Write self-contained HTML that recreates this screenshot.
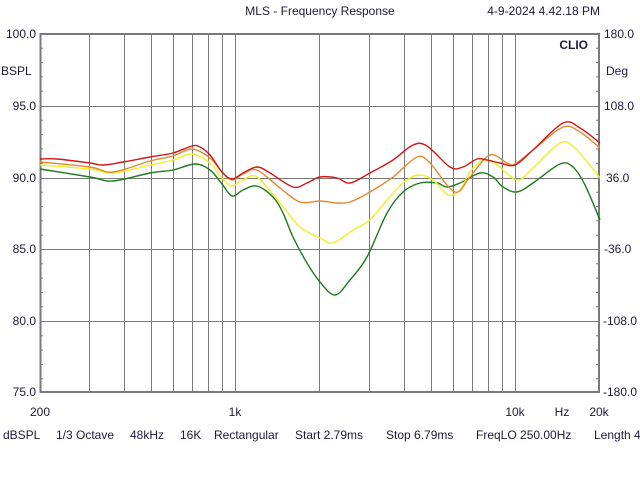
<!DOCTYPE html>
<html><head><meta charset="utf-8"><style>
html,body{margin:0;padding:0;background:#fff;}
svg{display:block;font-family:"Liberation Sans",sans-serif;}
text{fill:#1c1a3a;font-size:12px;}
</style></head><body>
<svg id="s" width="640" height="480" viewBox="0 0 640 480">
<rect width="640" height="480" fill="#fff"/>
<g stroke="#7a7a7a" stroke-width="1">
<line x1="89.5" y1="34" x2="89.5" y2="392"/>
<line x1="124.5" y1="34" x2="124.5" y2="392"/>
<line x1="151.5" y1="34" x2="151.5" y2="392"/>
<line x1="173.5" y1="34" x2="173.5" y2="392"/>
<line x1="192.5" y1="34" x2="192.5" y2="392"/>
<line x1="208.5" y1="34" x2="208.5" y2="392"/>
<line x1="222.5" y1="34" x2="222.5" y2="392"/>
<line x1="235.5" y1="34" x2="235.5" y2="392"/>
<line x1="319.5" y1="34" x2="319.5" y2="392"/>
<line x1="369.5" y1="34" x2="369.5" y2="392"/>
<line x1="404.5" y1="34" x2="404.5" y2="392"/>
<line x1="431.5" y1="34" x2="431.5" y2="392"/>
<line x1="453.5" y1="34" x2="453.5" y2="392"/>
<line x1="472.5" y1="34" x2="472.5" y2="392"/>
<line x1="488.5" y1="34" x2="488.5" y2="392"/>
<line x1="502.5" y1="34" x2="502.5" y2="392"/>
<line x1="515.5" y1="34" x2="515.5" y2="392"/>
<line x1="40" y1="106.5" x2="599" y2="106.5"/>
<line x1="40" y1="178.5" x2="599" y2="178.5"/>
<line x1="40" y1="249.5" x2="599" y2="249.5"/>
<line x1="40" y1="321.5" x2="599" y2="321.5"/>
</g>
<g stroke="#7a7a7a" stroke-width="1">
<path d="M40 48.3h3M40 62.6h3M40 76.9h3M40 91.3h3M40 120.3h3M40 134.6h3M40 148.9h3M40 163.2h3M40 192.3h3M40 206.6h3M40 220.9h3M40 235.2h3M40 263.8h3M40 278.1h3M40 292.5h3M40 306.8h3M40 335.8h3M40 350.1h3M40 364.4h3M40 378.7h3"/>
<path d="M599 48.3h-3M599 62.6h-3M599 76.9h-3M599 91.3h-3M599 120.3h-3M599 134.6h-3M599 148.9h-3M599 163.2h-3M599 192.3h-3M599 206.6h-3M599 220.9h-3M599 235.2h-3M599 263.8h-3M599 278.1h-3M599 292.5h-3M599 306.8h-3M599 335.8h-3M599 350.1h-3M599 364.4h-3M599 378.7h-3"/>
</g>
<rect x="40.5" y="34" width="558.5" height="358" fill="none" stroke="#7a7a7a" stroke-width="2"/>
<g id="curves" fill="none" stroke-width="1.4" stroke-linejoin="round">
<polyline stroke="#1e7a1e" points="40,169 90,177 113,181 150,173 173,170 195,164 210,170 222,184 232,196 243,190 257,186 273,197 283,213 293,237 307,263 320,282 335,295 350,280 367,257 387,213 403,192 420,183 437,183 447,187 460,183 480,173 493,177 503,187 517,192 533,183 560,164 573,167 585,185 600,220"/>
<polyline stroke="#f2ee28" points="40,165 90,169 113,173 150,165 173,160 192,154 210,163 222,178 232,186 243,180 257,177 280,203 300,227 320,238 333,243 353,230 370,220 387,200 403,183 418,175 433,180 448,195 460,190 470,172 483,160 497,165 517,180 533,168 560,143 575,148 600,178"/>
<polyline stroke="#e28a30" points="40,162 90,167 113,172 150,161 173,156 192,149 210,158 222,172 232,180 243,174 257,170 280,188 300,202 320,201 337,203 350,202 370,192 393,177 417,157 430,163 447,185 458,192 470,177 490,155 507,163 515,164 533,150 563,127 580,132 600,148"/>
<polyline stroke="#d01818" points="40,159 57,159 90,163 103,165 123,162 150,157 173,153 192,146 200,147 210,155 222,172 232,179 243,173 257,167 270,173 293,187 307,183 320,177 337,178 350,183 370,173 393,160 413,145 427,146 450,167 463,167 477,159 487,160 500,163 515,165 533,150 563,123 580,128 600,143"/>
</g>
<text x="320" y="15" text-anchor="middle">MLS - Frequency Response</text>
<text x="600" y="15" text-anchor="end">4-9-2024 4.42.18 PM</text>
<text x="588" y="49" text-anchor="end" font-weight="bold">CLIO</text>
<g text-anchor="end">
<text x="36" y="38">100.0</text>
<text x="36" y="110">95.0</text>
<text x="36" y="182">90.0</text>
<text x="36" y="253">85.0</text>
<text x="36" y="325">80.0</text>
<text x="36" y="396">75.0</text>
</g>
<text x="1" y="75">BSPL</text>
<g>
<text x="604" y="38">180.0</text>
<text x="606" y="75">Deg</text>
<text x="604" y="110">108.0</text>
<text x="606" y="182">36.0</text>
<text x="604" y="253">-36.0</text>
<text x="603" y="325">-108.0</text>
<text x="603" y="396">-180.0</text>
</g>
<g text-anchor="middle">
<text x="40" y="416">200</text>
<text x="235" y="416">1k</text>
<text x="515" y="416">10k</text>
<text x="562" y="416">Hz</text>
<text x="599" y="416">20k</text>
</g>
<text x="3" y="439">dBSPL</text>
<text x="56" y="439">1/3 Octave</text>
<text x="130" y="439">48kHz</text>
<text x="180" y="439">16K</text>
<text x="214" y="439">Rectangular</text>
<text x="295" y="439">Start 2.79ms</text>
<text x="386" y="439">Stop 6.79ms</text>
<text x="476" y="439">FreqLO 250.00Hz</text>
<text x="594" y="439">Length 4</text>
</svg>
<script>
(function(){
var ns="http://www.w3.org/2000/svg";
var pls=document.querySelectorAll('#curves polyline');
for(var k=0;k<pls.length;k++){
 var pl=pls[k];
 var p=pl.getAttribute('points').trim().split(/\s+/).map(function(s){return s.split(',').map(Number);});
 var d='M'+p[0][0]+' '+p[0][1];
 for(var i=0;i<p.length-1;i++){
  var p0=p[i-1]||p[i],p1=p[i],p2=p[i+1],p3=p[i+2]||p2;
  var c1x=p1[0]+(p2[0]-p0[0])/6,c1y=p1[1]+(p2[1]-p0[1])/6;
  var c2x=p2[0]-(p3[0]-p1[0])/6,c2y=p2[1]-(p3[1]-p1[1])/6;
  d+=' C'+c1x.toFixed(2)+' '+c1y.toFixed(2)+' '+c2x.toFixed(2)+' '+c2y.toFixed(2)+' '+p2[0]+' '+p2[1];
 }
 var path=document.createElementNS(ns,'path');
 path.setAttribute('d',d);
 path.setAttribute('stroke',pl.getAttribute('stroke'));
 pl.parentNode.replaceChild(path,pl);
}
})();
</script>
</body></html>
